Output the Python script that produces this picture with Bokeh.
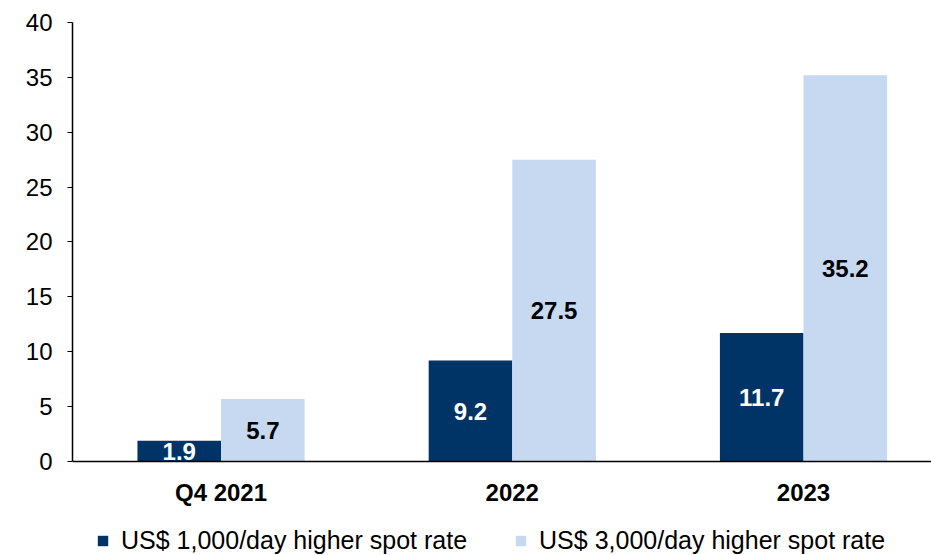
from bokeh.plotting import figure
from bokeh.models import ColumnDataSource, Legend, LegendItem, FixedTicker, Range1d, LabelSet, Span
from bokeh.core.properties import value
from bokeh.embed import file_html
from bokeh.resources import INLINE

categories = ["Q4 2021", "2022", "2023"]
series1_name = "US$ 1,000/day higher spot rate"
series2_name = "US$ 3,000/day higher spot rate"
series1 = [1.9, 9.2, 11.7]
series2 = [5.7, 27.5, 35.2]
y_ticks = [0, 5, 10, 15, 20, 25, 30, 35, 40]

DARK = "#003366"
LIGHT = "#C6D9F0"
FONT = "Liberation Sans"
BW = 0.287

xs = list(range(len(categories)))
src1 = ColumnDataSource(dict(x=[x - BW / 2 for x in xs], top=series1,
                             mid=[v / 2 for v in series1],
                             lab=[f"{v:.1f}" for v in series1]))
src2 = ColumnDataSource(dict(x=[x + BW / 2 for x in xs], top=series2,
                             mid=[v / 2 for v in series2],
                             lab=[f"{v:.1f}" for v in series2]))
cat_src = ColumnDataSource(dict(x=xs, y=[0] * len(xs), lab=categories))

# frame: left 72, top 22, right 931, bottom 555; value 0 at y=461, 40 at y=22
p = figure(width=931, height=555, output_backend="svg", toolbar_location=None,
           x_range=Range1d(-0.51, 2.4395), y_range=Range1d(-8.565, 40),
           x_axis_location=None,
           min_border_left=72, min_border_right=0, min_border_top=22, min_border_bottom=0)
p.outline_line_color = None
p.xgrid.grid_line_color = None
p.ygrid.grid_line_color = None

r1 = p.vbar(x="x", top="top", bottom=0, width=BW, source=src1, fill_color=DARK, line_color=None)
r2 = p.vbar(x="x", top="top", bottom=0, width=BW, source=src2, fill_color=LIGHT, line_color=None)

p.add_layout(Span(location=0, dimension="width", line_color="black", line_width=1.5))

p.add_layout(LabelSet(x="x", y="mid", text="lab", source=src1, text_color="white",
                      text_font=value(FONT), text_font_size="24px", text_font_style="bold",
                      text_align="center", text_baseline="middle"))
p.add_layout(LabelSet(x="x", y="mid", text="lab", source=src2, text_color="black",
                      text_font=value(FONT), text_font_size="24px", text_font_style="bold",
                      text_align="center", text_baseline="middle"))

p.text(x="x", y="y", text="lab", source=cat_src, y_offset=31,
       text_font=value(FONT), text_font_size="24px", text_font_style="bold",
       text_color="black", text_align="center", text_baseline="middle")

p.yaxis.ticker = FixedTicker(ticks=y_ticks)
p.yaxis.bounds = (0, 40)
p.yaxis.major_tick_out = 5
p.yaxis.major_tick_in = 0
p.yaxis.minor_tick_out = 0
p.yaxis.minor_tick_in = 0
p.yaxis.major_label_text_font = FONT
p.yaxis.major_label_text_font_size = "24px"
p.yaxis.major_label_text_color = "black"
p.yaxis.major_label_standoff = 15
p.yaxis.axis_line_color = "black"
p.yaxis.axis_line_width = 1.5

legend = Legend(items=[LegendItem(label=series1_name, renderers=[r1]),
                       LegendItem(label=series2_name, renderers=[r2])],
                orientation="horizontal", location=(24, 0),
                label_text_font=FONT, label_text_font_size="25px", label_text_color="black",
                glyph_width=13, glyph_height=13, spacing=47, label_standoff=12,
                border_line_color=None, background_fill_alpha=0, padding=0, margin=0)
p.add_layout(legend, "center")

open("out.html", "w").write(file_html(p, INLINE))
